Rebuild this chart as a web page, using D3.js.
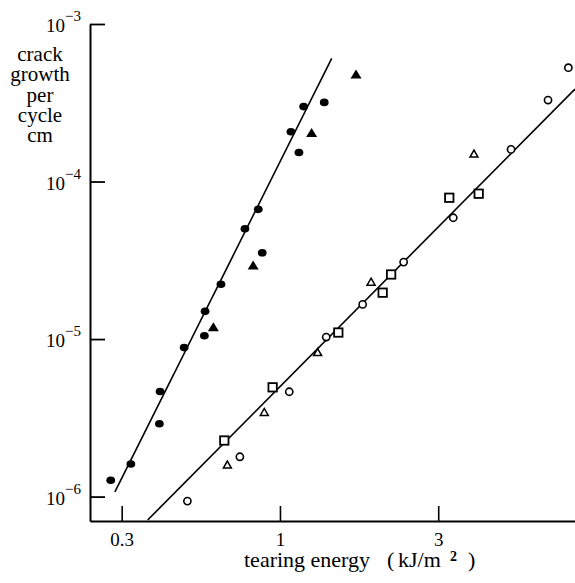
<!DOCTYPE html>
<html><head><meta charset="utf-8">
<script src="https://cdn.jsdelivr.net/npm/d3@7"></script>
<style>
body{margin:0;background:#fff}
svg{display:block}
text{font-family:"Liberation Serif","Times New Roman",serif;fill:#000}
</style>
</head><body>
<svg id="chart" width="575" height="583"></svg>
<script>
// ---- data (tearing energy kJ/m^2, crack growth per cycle cm) ----
const filledCircles = [
  [0.292,1.27e-6],[0.338,1.61e-6],[0.416,2.90e-6],[0.418,4.65e-6],[0.498,8.83e-6],
  [0.577,1.05e-5],[0.580,1.50e-5],[0.651,2.23e-5],[0.775,5.01e-5],[0.854,6.66e-5],
  [0.879,3.53e-5],[1.083,2.07e-4],[1.148,1.53e-4],[1.188,2.99e-4],[1.380,3.18e-4]
];
const filledTriangles = [[0.616,1.18e-5],[0.823,2.91e-5],[1.259,2.02e-4],[1.739,4.75e-4]];
const openCircles = [
  [0.510,9.36e-7],[0.747,1.79e-6],[1.070,4.63e-6],[1.400,1.03e-5],[1.825,1.66e-5],
  [2.459,3.08e-5],[3.528,5.89e-5],[5.37,1.60e-4],[7.03,3.29e-4],[8.15,5.28e-4]
];
const openTriangles = [[0.682,1.58e-6],[0.892,3.41e-6],[1.315,8.18e-6],[1.940,2.29e-5],[4.102,1.49e-4]];
const openSquares = [[0.667,2.27e-6],[0.948,4.94e-6],[1.529,1.10e-5],[2.111,1.97e-5],[2.245,2.57e-5],[3.427,7.89e-5],[4.245,8.37e-5]];
const fitLineA = [[0.301,1.07e-6],[1.457,6.05e-4]];
const fitLineB = [[0.382,7.1e-7],[8.55,3.86e-4]];
const xTickValues = [0.3162, 1, 3.162];
const xTickLabels = ["0.3", "1", "3"];
const yTickValues = [1e-6, 1e-5, 1e-4, 1e-3];
const yTickExponents = ["\u22126", "\u22125", "\u22124", "\u22123"];
const yLabelLines = ["crack", "growth", "per", "cycle", "cm"];

const svg = d3.select("#chart");
const x = d3.scaleLog().domain([0.2511, 8.553]).range([90, 575]);
const y = d3.scaleLog().domain([7.0e-7, 1e-3]).range([521, 24]);

// x axis
const xAxis = svg.append("g").attr("transform", "translate(0,521)")
  .call(d3.axisBottom(x).tickValues(xTickValues).tickSize(-15).tickSizeOuter(0)
    .tickFormat((d, i) => xTickLabels[i]));
xAxis.select(".domain").attr("stroke-width", 2);
xAxis.selectAll(".tick line").attr("stroke-width", 1.6);
xAxis.selectAll(".tick text").attr("y", 24.5).attr("dy", null)
  .style("font-size", "19px").style("font-family", "'Liberation Serif',serif");

// y axis
const yAxis = svg.append("g").attr("transform", "translate(90,0)")
  .call(d3.axisLeft(y).tickValues(yTickValues).tickSize(-15).tickSizeOuter(0).tickFormat(""));
yAxis.select(".domain").attr("stroke-width", 2);
yAxis.selectAll(".tick line").attr("stroke-width", 1.8);

const ylab = svg.append("g");
yTickValues.forEach((v, i) => {
  const t = ylab.append("text").attr("x", 46).attr("y", y(v) + 8);
  t.append("tspan").style("font-size", "19px").text("10");
  t.append("tspan").style("font-size", "15px").attr("dy", -11).text(yTickExponents[i]);
});

// y title
yLabelLines.forEach((s, i) => {
  svg.append("text").attr("x", 40).attr("y", 61 + i * 20.3)
    .attr("text-anchor", "middle").style("font-size", "21px").text(s);
});

// x title
const xt = svg.append("g").style("font-size", "22px");
xt.append("text").attr("x", 244).attr("y", 567).text("tearing energy");
xt.append("text").attr("x", 387).attr("y", 567).text("(");
xt.append("text").attr("x", 398).attr("y", 567).text("kJ/m");
xt.append("text").attr("x", 450).attr("y", 561).style("font-size", "14px").style("font-weight", "bold").text("2");
xt.append("text").attr("x", 468).attr("y", 567).text(")");

// fit lines
const line = d3.line().x(d => x(d[0])).y(d => y(d[1]));
[fitLineA, fitLineB].forEach(L => {
  svg.append("path").attr("d", line(L)).attr("fill", "none").attr("stroke", "#000").attr("stroke-width", 1.6);
});

// markers
const g = svg.append("g");
g.selectAll(".fc").data(filledCircles).join("ellipse")
  .attr("cx", d => x(d[0])).attr("cy", d => y(d[1])).attr("rx", 4.4).attr("ry", 3.8).attr("fill", "#000");
const triPath = (w, h) => `M0,${-h * 0.6}L${w / 2},${h * 0.4}L${-w / 2},${h * 0.4}Z`;
g.selectAll(".ft").data(filledTriangles).join("path")
  .attr("transform", d => `translate(${x(d[0])},${y(d[1])})`)
  .attr("d", triPath(11, 9)).attr("fill", "#000");
g.selectAll(".oc").data(openCircles).join("circle")
  .attr("cx", d => x(d[0])).attr("cy", d => y(d[1])).attr("r", 3.6)
  .attr("fill", "#fff").attr("stroke", "#000").attr("stroke-width", 1.6);
g.selectAll(".ot").data(openTriangles).join("path")
  .attr("transform", d => `translate(${x(d[0])},${y(d[1])})`)
  .attr("d", triPath(8, 7)).attr("fill", "#fff").attr("stroke", "#000").attr("stroke-width", 1.5);
g.selectAll(".os").data(openSquares).join("rect")
  .attr("x", d => x(d[0]) - 4.2).attr("y", d => y(d[1]) - 4.2).attr("width", 8.4).attr("height", 8.4)
  .attr("fill", "#fff").attr("stroke", "#000").attr("stroke-width", 1.8);
</script>
</body></html>
